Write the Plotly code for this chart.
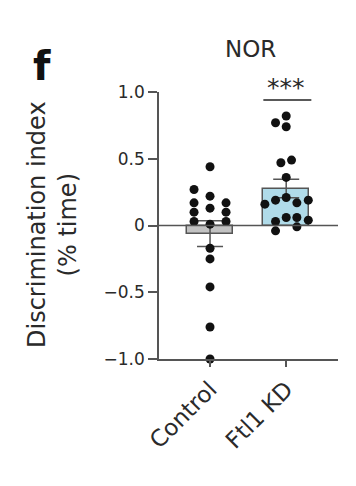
import numpy as np
import plotly.graph_objects as go

categories = ["Control", "Ftl1 KD"]
control_vals = [0.44, 0.27, 0.22, 0.17, 0.17, 0.13, 0.10, 0.10, 0.03, 0.01, 0.03,
                -0.17, -0.25, -0.46, -0.76, -1.0]
control_offsets = [0, -0.21, 0, -0.21, 0.21, 0, -0.21, 0.21, -0.21, 0, 0.21,
                   0, 0, 0, 0, 0]
kd_vals = [0.82, 0.77, 0.74, 0.49, 0.47, 0.36, 0.16, 0.19, 0.21, 0.17, 0.19,
           0.06, 0.06, 0.04, 0.03, -0.04, -0.01]
kd_offsets = [0, -0.14, 0, 0.07, -0.07, 0, -0.28, -0.14, 0, 0.14, 0.29,
              0, 0.14, 0.29, -0.14, -0.14, 0.14]
bar_colors = ["#c2c2c2", "#b0dbe9"]
y_ticks = [-1.0, -0.5, 0, 0.5, 1.0]
y_ticklabels = ["\u22121.0", "\u22120.5", "0", "0.5", "1.0"]

groups = [control_vals, kd_vals]
offsets = [control_offsets, kd_offsets]
means = [float(np.mean(g)) for g in groups]
sems = [float(np.std(g, ddof=1) / np.sqrt(len(g))) for g in groups]

axis_col = "#555555"
text_col = "#2a2a2a"
font = "DejaVu Sans, sans-serif"

W, H = 356, 486
L, R, T, B = 159, 18, 92, 127
pw, ph = W - L - R, H - T - B


def px_x(x):
    return (x - L) / pw


def px_y(y):
    return (H - B - y) / ph


fig = go.Figure()
fig.add_trace(go.Bar(
    x=[0, 1], y=means, width=0.61,
    marker=dict(color=bar_colors, line=dict(color=axis_col, width=1.5)),
    error_y=dict(type="data", array=sems, color=axis_col, thickness=1.5, width=13),
    showlegend=False,
))
for i, (vals, offs) in enumerate(zip(groups, offsets)):
    fig.add_trace(go.Scatter(
        x=[i + o for o in offs], y=vals, mode="markers",
        marker=dict(color="#111111", size=9),
        cliponaxis=False, showlegend=False,
    ))

# zero line
fig.add_shape(type="line", xref="paper", yref="y", x0=0, x1=1, y0=0, y1=0,
              line=dict(color=axis_col, width=1.5))
# significance bar
fig.add_shape(type="line", xref="x", yref="y", x0=0.7, x1=1.33, y0=0.94, y1=0.94,
              line=dict(color="#222222", width=1.5))
fig.add_annotation(x=1.0, y=px_y(88), xref="x", yref="paper", text="***", showarrow=False,
                   yanchor="middle", font=dict(size=25, color=text_col, family=font))
fig.add_annotation(x=px_x(250), y=px_y(49), xref="paper", yref="paper", text="NOR",
                   showarrow=False, yanchor="middle",
                   font=dict(size=23, color=text_col, family=font))
fig.add_annotation(x=px_x(31), y=px_y(66), xref="paper", yref="paper", text="<b>f</b>",
                   showarrow=False, yanchor="middle",
                   font=dict(size=40, color="#111111", family=font))
fig.add_annotation(x=px_x(52), y=px_y(225), xref="paper", yref="paper",
                   text="Discrimination index<br>(% time)", showarrow=False,
                   textangle=-90, xanchor="center", yanchor="middle",
                   font=dict(size=24, color=text_col, family=font))

fig.update_layout(
    width=W, height=H,
    margin=dict(l=L, r=R, t=T, b=B),
    plot_bgcolor="white", paper_bgcolor="white",
    font=dict(family=font, size=17, color=text_col),
    bargap=0,
    xaxis=dict(range=[-0.67, 1.68], tickvals=[0, 1], ticktext=categories,
               tickangle=-45, showline=True, linecolor=axis_col, linewidth=1.5,
               ticks="outside", ticklen=6, tickcolor=axis_col, tickwidth=1.5,
               showgrid=False, zeroline=False, tickfont=dict(size=23)),
    yaxis=dict(range=[-1.0, 1.0], tickvals=y_ticks, ticktext=y_ticklabels,
               showline=True, linecolor=axis_col, linewidth=1.5,
               ticks="outside", ticklen=9, tickcolor=axis_col, tickwidth=1.5,
               showgrid=False, zeroline=False, tickfont=dict(size=17)),
)

fig.write_html("out.html", post_script="document.body.style.margin='0px';",
               config={"displayModeBar": False})
